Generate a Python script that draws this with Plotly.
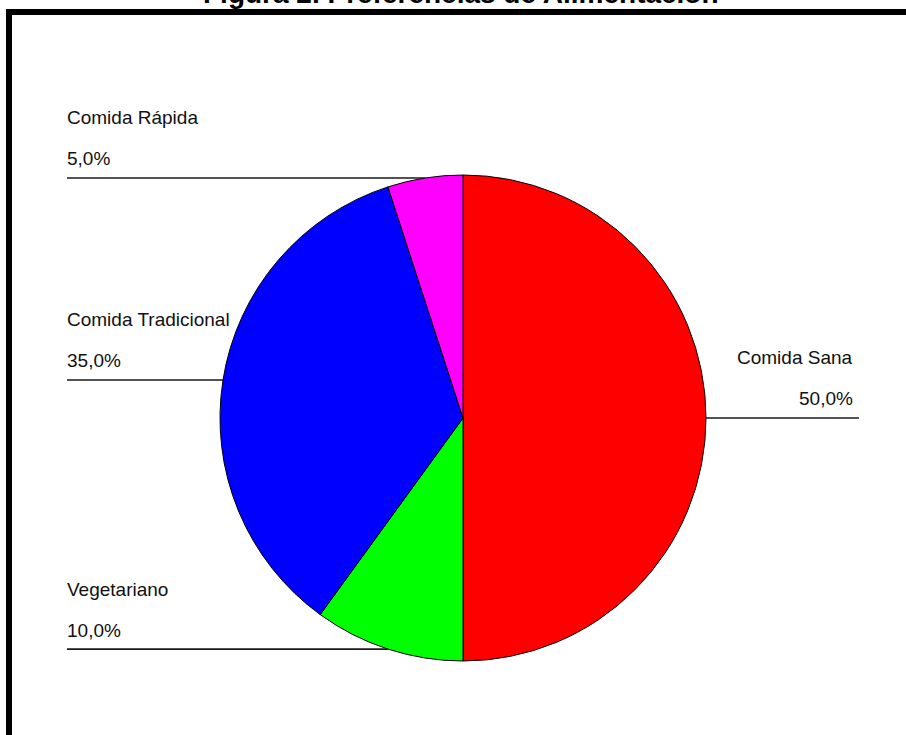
import plotly.graph_objects as go

# Data
categorias = ["Comida Sana", "Vegetariano", "Comida Tradicional", "Comida Rápida"]
porcentajes = [50.0, 10.0, 35.0, 5.0]
colores = ["#FF0000", "#00FF00", "#0000FF", "#FF00FF"]
titulo = "Figura 2. Preferencias de Alimentación"

# Canvas and pie geometry (pixels)
W, H = 906, 735
CX, CY, R = 463, 418, 243
LEFT_X, RIGHT_X = 67, 859
FONT = "Liberation Sans, Arial, sans-serif"


def px(x):
    return x / W


def py(y):
    return 1 - y / H


fig = go.Figure(go.Pie(
    labels=categorias,
    values=porcentajes,
    marker=dict(colors=colores, line=dict(color="#000000", width=1)),
    sort=False,
    direction="clockwise",
    textinfo="none",
    hoverinfo="label+percent",
    showlegend=False,
    domain=dict(x=[px(CX - R), px(CX + R)], y=[py(CY + R), py(CY - R)]),
))

shapes = []
annotations = []

# Leader lines and labels anchored at the middle of each slice
import math
total = sum(porcentajes)
acum = 0.0
for cat, val in zip(categorias, porcentajes):
    mid = (acum + val / 2) / total * 2 * math.pi  # clockwise from 12 o'clock
    acum += val
    ex = CX + R * math.sin(mid)
    ey = CY - R * math.cos(mid)
    pct = f"{val / total * 100:.1f}".replace(".", ",") + "%"
    if ex >= CX:
        x0, x1 = ex, RIGHT_X
        tx, anchor = RIGHT_X - 4, "right"
    else:
        x0, x1 = LEFT_X, ex
        tx, anchor = LEFT_X - 2, "left"
    shapes.append(dict(type="line", xref="paper", yref="paper",
                       x0=px(x0), x1=px(x1), y0=py(ey), y1=py(ey),
                       line=dict(color="#1a1a1a", width=1.6)))
    for text, dy in ((cat, -60), (pct, -19)):
        annotations.append(dict(
            text=text, xref="paper", yref="paper",
            x=px(tx), y=py(ey + dy), xanchor=anchor, yanchor="middle",
            showarrow=False, font=dict(family=FONT, size=19, color="#111111"),
        ))

# Frame around the chart (only top and left edges fall inside the canvas)
shapes.append(dict(type="rect", xref="paper", yref="paper",
                   x0=px(9), y0=-0.1, x1=1.1, y1=py(12),
                   line=dict(color="#000000", width=6), layer="below"))

# Title, partly above the canvas
annotations.append(dict(
    text=f"<b>{titulo}</b>", xref="paper", yref="paper",
    x=px(461), y=py(11), xanchor="center", yanchor="bottom",
    showarrow=False, font=dict(family=FONT, size=28, color="#000000"),
))

fig.update_layout(
    width=W, height=H,
    margin=dict(l=0, r=0, t=0, b=0),
    paper_bgcolor="#FFFFFF",
    plot_bgcolor="#FFFFFF",
    shapes=shapes,
    annotations=annotations,
)

fig.write_html("out.html")
